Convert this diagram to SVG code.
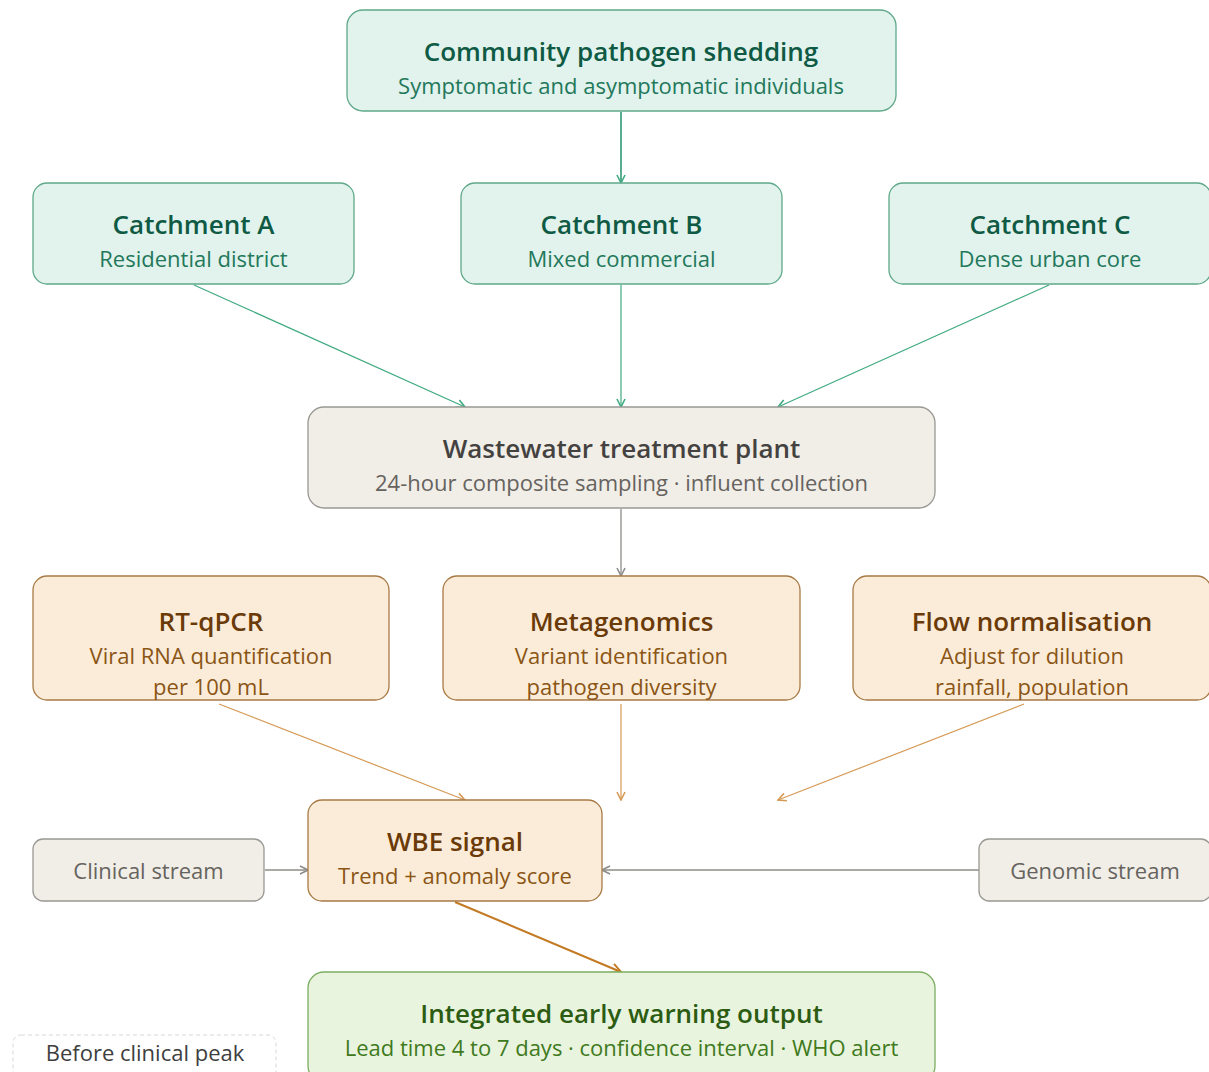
<svg xmlns="http://www.w3.org/2000/svg" width="1209" height="1072" viewBox="0 0 1209 1072">
<style>
text{font-family:"Open Sans","Noto Sans","Liberation Sans",sans-serif;text-anchor:middle}
.t{font-size:26px;font-weight:600}
.s{font-size:22px}
.g rect{fill:#e1f3ec;stroke:#5fa88a;stroke-width:1.3}
.g .t{fill:#0f5a44}.g .s{fill:#23785b}
.w rect{fill:#f1eee7;stroke:#999893;stroke-width:1.3}
.w .t{fill:#444240}.w .s{fill:#66635f}
.o rect{fill:#fbecd9;stroke:#a87a45;stroke-width:1.3}
.o .t{fill:#6a3a08}.o .s{fill:#8a5515}
.k rect{fill:#e9f4de;stroke:#7cae61;stroke-width:1.3}
.k .t{fill:#2c5c12}.k .s{fill:#3f7a20}
.n rect{fill:#ffffff;stroke:#d8d8d8;stroke-width:1;stroke-dasharray:4 3}
.n text{fill:#3e3e3e}
.cg{stroke:#3faa80;stroke-width:1.2;fill:none}
.cgt{stroke:#2e9a72;stroke-width:1.6;fill:none}
.cw{stroke:#8e8c88;stroke-width:1.3;fill:none}
.co{stroke:#d59a55;stroke-width:1.2;fill:none}
.cot{stroke:#c47a22;stroke-width:2;fill:none}
</style>
<defs>
<marker id="ag" viewBox="0 0 10 10" refX="9" refY="5" markerWidth="10" markerHeight="10" markerUnits="userSpaceOnUse" orient="auto"><path d="M1,1 L9,5 L1,9" fill="none" stroke="#3faa80" stroke-width="1.6"/></marker>
<marker id="aw" viewBox="0 0 10 10" refX="9" refY="5" markerWidth="10" markerHeight="10" markerUnits="userSpaceOnUse" orient="auto"><path d="M1,1 L9,5 L1,9" fill="none" stroke="#8e8c88" stroke-width="1.6"/></marker>
<marker id="ao" viewBox="0 0 10 10" refX="9" refY="5" markerWidth="10" markerHeight="10" markerUnits="userSpaceOnUse" orient="auto"><path d="M1,1 L9,5 L1,9" fill="none" stroke="#d59a55" stroke-width="1.6"/></marker>
<marker id="aot" viewBox="0 0 10 10" refX="9" refY="5" markerWidth="12" markerHeight="12" markerUnits="userSpaceOnUse" orient="auto"><path d="M1,1 L9,5 L1,9" fill="none" stroke="#c47a22" stroke-width="1.6"/></marker>
</defs>
<g id="connectors">
<line class="cgt" x1="621" y1="112" x2="621" y2="183" marker-end="url(#ag)"/>
<line class="cg" x1="194" y1="285" x2="465" y2="407" marker-end="url(#ag)"/>
<line class="cg" x1="621" y1="285" x2="621" y2="407" marker-end="url(#ag)"/>
<line class="cg" x1="1049" y1="285" x2="778" y2="407" marker-end="url(#ag)"/>
<line class="cw" x1="621" y1="509" x2="621" y2="576" marker-end="url(#aw)"/>
<line class="co" x1="219" y1="704" x2="465" y2="800" marker-end="url(#ao)"/>
<line class="co" x1="621" y1="704" x2="621" y2="800" marker-end="url(#ao)"/>
<line class="co" x1="1024" y1="704" x2="778" y2="800" marker-end="url(#ao)"/>
<line class="cw" x1="265" y1="870" x2="308" y2="870" marker-end="url(#aw)"/>
<line class="cw" x1="979" y1="870" x2="602" y2="870" marker-end="url(#aw)"/>
<line class="cot" x1="455" y1="902" x2="621" y2="972" marker-end="url(#aot)"/>
</g>
<g id="community" class="g"><rect x="347" y="10" width="549" height="101" rx="16"/><text class="t" x="621" y="61">Community pathogen shedding</text><text class="s" x="621" y="94">Symptomatic and asymptomatic individuals</text></g>
<g id="catchA" class="g"><rect x="33" y="183" width="321" height="101" rx="14"/><text class="t" x="193.5" y="234">Catchment A</text><text class="s" x="193.5" y="267">Residential district</text></g>
<g id="catchB" class="g"><rect x="461" y="183" width="321" height="101" rx="14"/><text class="t" x="621.5" y="234">Catchment B</text><text class="s" x="621.5" y="267">Mixed commercial</text></g>
<g id="catchC" class="g"><rect x="889" y="183" width="322" height="101" rx="14"/><text class="t" x="1050" y="234">Catchment C</text><text class="s" x="1050" y="267">Dense urban core</text></g>
<g id="wwtp" class="w"><rect x="308" y="407" width="627" height="101" rx="16"/><text class="t" x="621.5" y="458">Wastewater treatment plant</text><text class="s" x="621.5" y="491">24-hour composite sampling · influent collection</text></g>
<g id="rtqpcr" class="o"><rect x="33" y="576" width="356" height="124" rx="14"/><text class="t" x="211" y="631">RT-qPCR</text><text class="s" x="211" y="664">Viral RNA quantification</text><text class="s" x="211" y="695">per 100 mL</text></g>
<g id="meta" class="o"><rect x="443" y="576" width="357" height="124" rx="14"/><text class="t" x="621.5" y="631">Metagenomics</text><text class="s" x="621.5" y="664">Variant identification</text><text class="s" x="621.5" y="695">pathogen diversity</text></g>
<g id="flow" class="o"><rect x="853" y="576" width="358" height="124" rx="14"/><text class="t" x="1032" y="631">Flow normalisation</text><text class="s" x="1032" y="664">Adjust for dilution</text><text class="s" x="1032" y="695">rainfall, population</text></g>
<g id="wbe" class="o"><rect x="308" y="800" width="294" height="101" rx="14"/><text class="t" x="455" y="851">WBE signal</text><text class="s" x="455" y="884">Trend + anomaly score</text></g>
<g id="clinical" class="w"><rect x="33" y="839" width="231" height="62" rx="10"/><text class="s" x="148.5" y="879">Clinical stream</text></g>
<g id="genomic" class="w"><rect x="979" y="839" width="232" height="62" rx="10"/><text class="s" x="1095" y="879">Genomic stream</text></g>
<g id="output" class="k"><rect x="308" y="972" width="627" height="110" rx="16"/><text class="t" x="621.5" y="1023">Integrated early warning output</text><text class="s" x="621.5" y="1056">Lead time 4 to 7 days · confidence interval · WHO alert</text></g>
<g id="note" class="n"><rect x="13" y="1035" width="263" height="50" rx="8"/><text class="s" x="145" y="1061">Before clinical peak</text></g>
</svg>
